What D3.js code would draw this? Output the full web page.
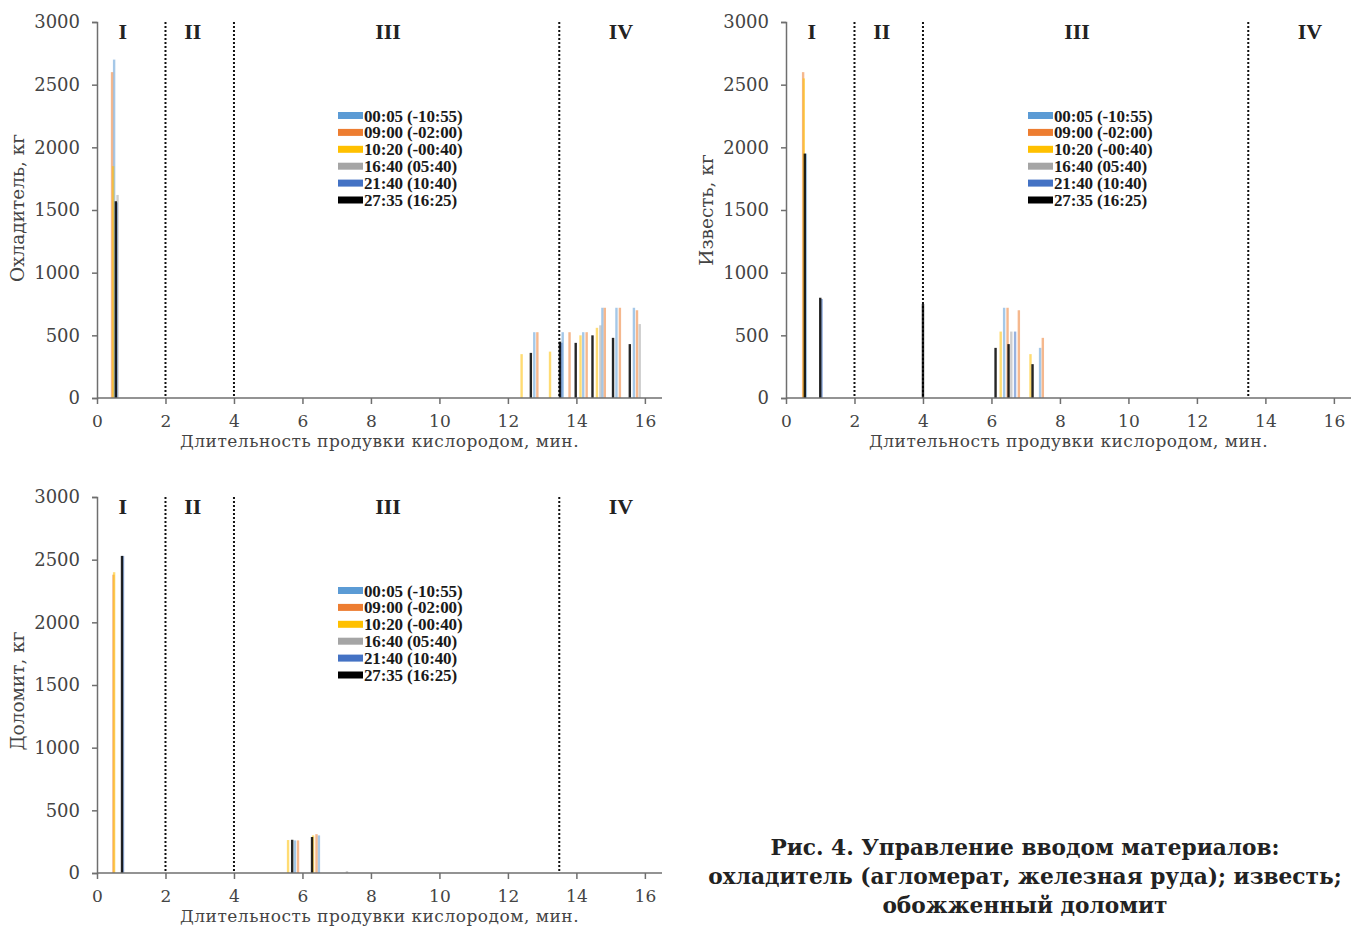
<!DOCTYPE html>
<html>
<head>
<meta charset="utf-8">
<script src="https://cdn.jsdelivr.net/npm/d3@7"></script>
<style>
  html, body { margin: 0; padding: 0; background: #fff; }
  svg { display: block; }
</style>
</head>
<body>
<svg id="chart" width="1351" height="928"></svg>
<script>
// Series (heat start times) and their colours
const seriesNames = ["00:05 (-10:55)", "09:00 (-02:00)", "10:20 (-00:40)", "16:40 (05:40)", "21:40 (10:40)", "27:35 (16:25)"];
const seriesColors = ["#5b9bd5", "#ed7d31", "#ffc000", "#a5a5a5", "#4472c4", "#000000"];

// Axis ticks and stage markers
const xTicks = [0, 2, 4, 6, 8, 10, 12, 14, 16];
const yTicks = [0, 500, 1000, 1500, 2000, 2500, 3000];
const stageBounds = [2, 4, 13.5];
const stageLabels = ["I", "II", "III", "IV"];
const stageLabelPos = [0.75, 2.8, 8.5, 15.3];

// Coolant additions: [time, min ; mass, kg] per series
const coolant = [
  [[0.5, 2700], [12.77, 525], [13.6, 525], [14.2, 525], [14.76, 720], [15.17, 720], [15.68, 720]],
  [[0.44, 2600], [12.86, 525], [13.8, 525], [14.3, 525], [14.83, 720], [15.27, 720], [15.77, 700]],
  [[0.47, 1850], [12.4, 350], [13.23, 370], [14.12, 500], [14.6, 560]],
  [[0.6, 1620], [14.7, 580], [15.85, 590]],
  [[0.57, 1560], [13.56, 440]],
  [[0.55, 1570], [12.67, 360], [13.52, 450], [13.98, 440], [14.47, 500], [15.07, 480], [15.56, 430]]
];

// Lime additions
const lime = [
  [[0.58, 1950], [6.37, 720], [7.42, 400]],
  [[0.5, 2600], [6.47, 720], [6.8, 700], [7.5, 480]],
  [[0.52, 2550], [6.27, 530], [7.14, 350]],
  [[6.58, 530]],
  [[6.69, 530], [1.04, 790]],
  [[0.55, 1950], [1.0, 800], [4.0, 750], [6.12, 400], [6.5, 430], [7.2, 270]]
];

// Burnt dolomite additions
const dolomite = [
  [[5.78, 260], [6.48, 300]],
  [[0.48, 2380], [5.87, 260], [6.41, 310]],
  [[0.5, 2400], [5.58, 263], [6.31, 300]],
  [[7.3, 15]],
  [[0.76, 2530]],
  [[0.73, 2530], [5.7, 265], [6.28, 287]]
];

const svg = d3.select("#chart");
const axisColor = "#6f6f6f";
const textColor = "#444";
const wideSerif = "'DejaVu Serif', serif";
const narrowSerif = "'Liberation Serif', serif";

function drawPanel(cfg) {
  const g = svg.append("g").attr("transform", `translate(${cfg.left},${cfg.top})`);
  const x = d3.scaleLinear().domain([0, 16.5]).range([0, cfg.width]);
  const y = d3.scaleLinear().domain([0, 3000]).range([cfg.height, 0]);

  // stage boundaries
  g.selectAll("line.stage").data(stageBounds).enter().append("line")
    .attr("x1", d => x(d)).attr("x2", d => x(d))
    .attr("y1", 0).attr("y2", cfg.height)
    .attr("stroke", "#111").attr("stroke-width", 2)
    .attr("stroke-dasharray", "2,2");

  g.selectAll("text.stage").data(stageLabels).enter().append("text")
    .attr("x", (d, i) => x(stageLabelPos[i]))
    .attr("y", 17)
    .attr("text-anchor", "middle")
    .style("font-family", narrowSerif)
    .style("font-size", "22px").style("font-weight", "bold")
    .attr("fill", "#222")
    .text(d => d);

  // bars, black series last so it sits on top
  cfg.data.forEach((pts, si) => {
    g.append("g").selectAll("rect").data(pts).enter().append("rect")
      .attr("x", d => x(d[0]) - 1.2)
      .attr("width", 2.4)
      .attr("y", d => y(d[1]))
      .attr("height", d => cfg.height - y(d[1]))
      .attr("fill", seriesColors[si])
      .attr("opacity", si === 5 ? 0.85 : 0.55);
  });

  // axes
  const yAxis = d3.axisLeft(y).tickValues(yTicks).tickFormat(d3.format("d"))
    .tickSize(5).tickPadding(12);
  const gy = g.append("g").call(yAxis);
  gy.select(".domain").attr("stroke", axisColor).attr("stroke-width", 1.5);
  gy.selectAll(".tick line").attr("stroke", axisColor).attr("stroke-width", 1.5);
  gy.selectAll(".tick text").style("font-family", wideSerif)
    .style("font-size", "18px").attr("fill", textColor);

  const xAxis = d3.axisBottom(x).tickValues(xTicks).tickFormat(d3.format("d"))
    .tickSize(6).tickPadding(11);
  const gx = g.append("g").attr("transform", `translate(0,${cfg.height})`).call(xAxis);
  gx.select(".domain").attr("stroke", axisColor).attr("stroke-width", 1.5)
    .attr("d", `M0,0H${cfg.width}`);
  gx.selectAll(".tick line").attr("stroke", axisColor).attr("stroke-width", 1.5);
  gx.selectAll(".tick text").style("font-family", wideSerif)
    .style("font-size", "17px").attr("fill", textColor);

  // axis titles
  g.append("text")
    .attr("x", x(8.25)).attr("y", cfg.height + 49)
    .attr("text-anchor", "middle")
    .style("font-family", wideSerif)
    .style("font-size", "17px").style("letter-spacing", "0.5px")
    .attr("fill", textColor)
    .text("Длительность продувки кислородом, мин.");

  g.append("text")
    .attr("transform", `translate(${-73},${cfg.height / 2 + cfg.yTitleShift}) rotate(-90)`)
    .attr("text-anchor", "middle")
    .style("font-family", wideSerif)
    .style("font-size", "18.5px")
    .attr("fill", textColor)
    .text(cfg.yTitle);

  // legend
  const lg = g.append("g").attr("transform", `translate(${cfg.legendX},${cfg.legendY})`);
  seriesNames.forEach((name, i) => {
    const row = lg.append("g").attr("transform", `translate(0,${i * 16.9})`);
    row.append("rect").attr("x", 0).attr("y", -4).attr("width", 25).attr("height", 7)
      .attr("fill", seriesColors[i]);
    row.append("text").attr("x", 26).attr("y", 5.5)
      .style("font-family", narrowSerif)
      .style("font-size", "17px").style("font-weight", "bold")
      .style("letter-spacing", "-0.15px")
      .attr("fill", "#1a1a1a")
      .text(name);
  });
}

drawPanel({ left: 97, top: 22, width: 565, height: 376, data: coolant,
  yTitle: "Охладитель, кг", yTitleShift: -2, legendX: 241, legendY: 94 });
drawPanel({ left: 786, top: 22, width: 565, height: 376, data: lime,
  yTitle: "Известь, кг", yTitleShift: 0, legendX: 242, legendY: 94 });
drawPanel({ left: 97, top: 497, width: 565, height: 376, data: dolomite,
  yTitle: "Доломит, кг", yTitleShift: 6, legendX: 241, legendY: 94 });

// figure caption
const caption = [
  "Рис. 4. Управление вводом материалов:",
  "охладитель (агломерат, железная руда); известь;",
  "обожженный доломит"
];
svg.append("g").selectAll("text").data(caption).enter().append("text")
  .attr("x", 1025).attr("y", (d, i) => 855 + i * 29)
  .attr("text-anchor", "middle")
  .style("font-family", wideSerif)
  .style("font-size", "21.7px").style("font-weight", "bold")
  .attr("fill", "#222")
  .text(d => d);
</script>
</body>
</html>
